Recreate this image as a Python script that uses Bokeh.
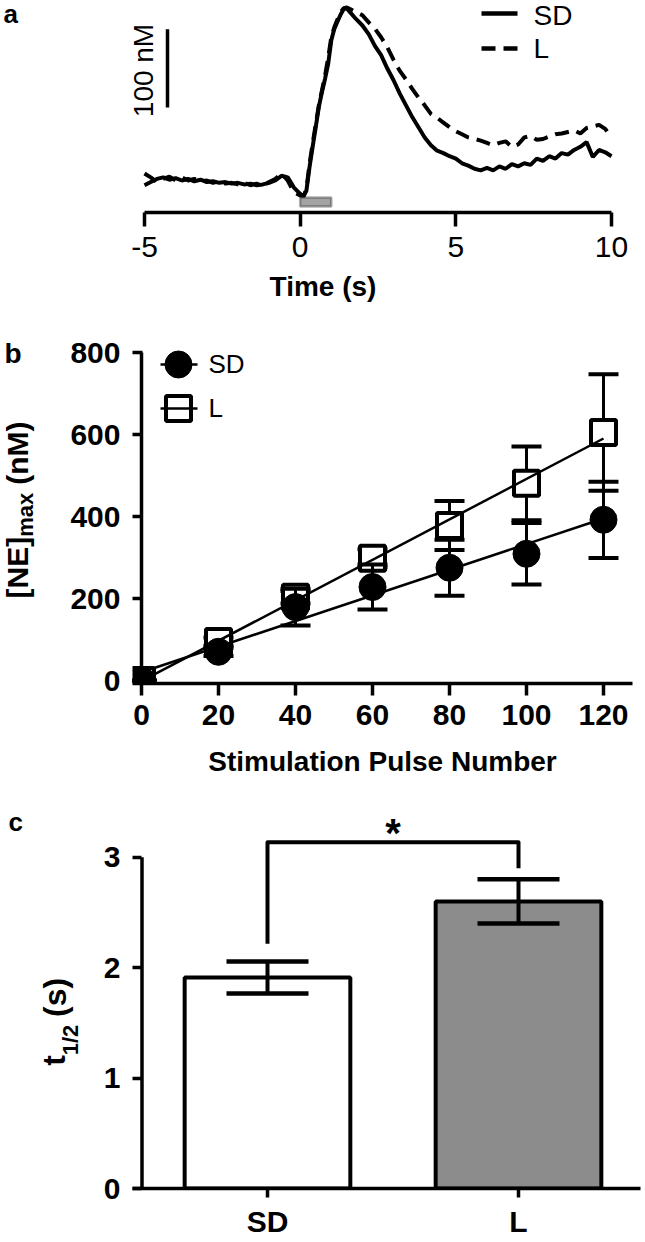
import numpy as np
from math import pi
from bokeh.plotting import figure
from bokeh.models import Range1d, Label, FixedTicker, BoxAnnotation, ColumnDataSource
from bokeh.layouts import column, row
from bokeh.embed import file_html
from bokeh.resources import INLINE

FONT = "Liberation Sans"

# ---------------- data: panel a (NE traces, nM relative to baseline) ----------------
time_s = [-5.0, -4.8, -4.6, -4.4, -4.2, -4.0, -3.8, -3.6, -3.4, -3.2, -3.0, -2.8, -2.6,
          -2.4, -2.2, -2.0, -1.8, -1.6, -1.4, -1.2, -1.0, -0.8, -0.6, -0.4, -0.2,
          0.0, 0.1, 0.2, 0.3, 0.4, 0.5, 0.6, 0.7, 0.8, 0.9, 1.0, 1.1, 1.2, 1.3, 1.4, 1.5, 1.6,
          1.8, 2.0, 2.2, 2.4, 2.6, 2.8, 3.0, 3.2, 3.4, 3.6, 3.8, 4.0, 4.2, 4.4, 4.6, 4.8,
          5.0, 5.2, 5.4, 5.6, 5.8, 6.0, 6.2, 6.4, 6.6, 6.8, 7.0, 7.2, 7.4, 7.6, 7.8, 8.0,
          8.2, 8.4, 8.6, 8.8, 9.0, 9.2, 9.4, 9.6, 9.8, 10.0]
sd_trace = [-6, -2, 2, 4, 1, 3, 0, 2, -1, 1, -2, -1, -3, -2, -4, -3, -5, -4, -6, -5, -3, 0, 6, 4, -9,
            -17, -20, -13, 17, 43, 68, 94, 113, 130, 149, 179, 194, 203, 212, 219, 220, 215,
            206, 198, 187, 172, 160, 143, 128, 111, 96, 81, 68, 55, 45, 38, 35, 31,
            28, 22, 19, 15, 13, 16, 13, 18, 15, 21, 18, 22, 20, 28, 25, 31,
            28, 35, 33, 39, 43, 49, 30, 39, 36, 31]
l_trace = [9, 4, -2, 2, 5, 0, 4, 0, 2, -1, 0, -3, -1, -4, -3, -5, -3, -6, -4, -7, -2, 2, 9, 0, -15,
           -19, -21, -11, 21, 47, 72, 96, 115, 134, 157, 183, 196, 206, 215, 220, 221, 219,
           215, 211, 202, 194, 183, 170, 154, 140, 129, 117, 106, 96, 85, 80, 74, 68,
           63, 59, 55, 53, 51, 48, 45, 48, 50, 43, 46, 55, 57, 52, 53, 56,
           59, 60, 62, 64, 60, 67, 69, 71, 66, 55]
stim_on, stim_off = 0.0, 1.0
time_ticks = [-5, 0, 5, 10]
time_tick_labels = ["-5", "0", "5", "10"]
scale_bar_nM = 100
trace_names = ["SD", "L"]

# ---------------- data: panel b ----------------
pulses = [0, 20, 40, 60, 80, 100, 120]
sd_max = [0, 70, 179, 228, 275, 309, 392]
sd_max_err = [0, 10, 45, 55, 68, 75, 93]
l_max = [0, 95, 203, 298, 378, 481, 605]
l_max_err = [0, 10, 15, 22, 60, 90, 142]
nm_ticks = [0, 200, 400, 600, 800]

# ---------------- data: panel c ----------------
groups = ["SD", "L"]
t_half = [1.91, 2.60]
t_half_err = [0.145, 0.20]
t_ticks = [0, 1, 2, 3]
signif = "*"

# ---------------- layout helpers ----------------
W = 645
MID = 0.3465   # text-box centre above the baseline, in em (Liberation Sans)
BOLD_W = {"[": .333, "]": .333, "N": .722, "E": .667, "m": .889, "a": .556, "x": .556,
          " ": .278, "(": .333, ")": .333, "n": .611, "M": .833, "t": .333, "1": .556,
          "/": .278, "2": .556, "s": .556}


def tw(text, size):
    return sum(BOLD_W.get(c, .6) for c in text) * size


class Geo:
    """maps page pixels to data coordinates for a frame"""
    def __init__(self, left, right, top, bottom, xr, yr):
        self.l, self.r, self.t, self.b = left, right, top, bottom
        self.xr, self.yr = xr, yr

    def x(self, px):
        return self.xr[0] + (px - self.l) * (self.xr[1] - self.xr[0]) / (self.r - self.l)

    def y(self, py):
        return self.yr[1] - (py - self.t) * (self.yr[1] - self.yr[0]) / (self.b - self.t)


def make_fig(fig_left, fig_top, width, height, g, **kw):
    p = figure(width=width, height=height, x_range=Range1d(*g.xr), y_range=Range1d(*g.yr),
               output_backend="svg", toolbar_location=None, title=None,
               min_border_left=g.l - fig_left, min_border_right=fig_left + width - g.r,
               min_border_top=g.t - fig_top, min_border_bottom=fig_top + height - g.b, **kw)
    p.outline_line_color = None
    p.grid.visible = False
    p.background_fill_color = "white"
    p.border_fill_color = "white"
    return p


def label_fig(width, fig_top, height, frame_top, frame_bottom):
    """axis-less figure beside a plot; its frame spans the same rows as that plot's frame"""
    g = Geo(0, width, frame_top, frame_bottom, (0, width), (0, frame_bottom - frame_top))
    p = figure(width=width, height=height, x_range=Range1d(*g.xr), y_range=Range1d(*g.yr),
               output_backend="svg", toolbar_location=None, title=None,
               x_axis_location=None, y_axis_location=None,
               min_border_left=0, min_border_right=0,
               min_border_top=frame_top - fig_top,
               min_border_bottom=fig_top + height - frame_bottom)
    p.outline_line_color = None
    p.grid.visible = False
    p.border_fill_color = "white"
    p.background_fill_color = "white"
    return p, g


def style_axis(ax, size, bold, lw=3.5):
    ax.axis_line_color = "black"
    ax.axis_line_width = lw
    ax.major_tick_line_color = "black"
    ax.major_tick_line_width = lw
    ax.minor_tick_line_color = None
    ax.major_label_text_font = FONT
    ax.major_label_text_font_size = f"{size}px"
    ax.major_label_text_font_style = "bold" if bold else "normal"
    ax.major_label_text_color = "black"
    ax.axis_label_text_font = FONT
    ax.axis_label_text_font_style = "bold"
    ax.axis_label_text_color = "black"


def label(p, g, px, baseline_py, text, size, bold=False, align="left"):
    """horizontal text; baseline given in page pixels"""
    p.add_layout(Label(x=g.x(px), y=g.y(baseline_py - MID * size), text=text, text_font=FONT,
                       text_font_size=f"{size}px", text_font_style="bold" if bold else "normal",
                       text_color="black", text_align=align, text_baseline="middle"))


def vlabel(p, g, baseline_px, center_py, text, size, bold=False):
    """text rotated 90 deg (reading upwards); baseline x and centre y in page pixels"""
    p.add_layout(Label(x=g.x(baseline_px - MID * size), y=g.y(center_py), text=text,
                       text_font=FONT, text_font_size=f"{size}px",
                       text_font_style="bold" if bold else "normal", text_color="black",
                       angle=pi / 2, text_align="center", text_baseline="middle"))


def vstack(p, g, center_py, pieces):
    """pieces: (text, size, baseline_px, gap_before); laid out bottom-to-top around center_py"""
    total = sum(tw(t, s) + gap for t, s, _, gap in pieces)
    start = center_py + total / 2
    for t, s, bx, gap in pieces:
        start -= gap
        w = tw(t, s)
        vlabel(p, g, bx, start - w / 2, t, s, bold=True)
        start -= w


# ================= panel a =================
PX_S = 31.13     # px per second
PX_NM = 0.783    # px per nM
A_H = 312
GA = Geo(0, W, 0, 212, (-5 - 144 / PX_S, 10 + (W - 611) / PX_S),
         (-(212 - 180) / PX_NM, 180 / PX_NM))
pa = make_fig(0, 0, W, A_H, GA, y_axis_location=None)
ax = pa.xaxis[0]
style_axis(ax, 30, False)
ax.bounds = (time_ticks[0], time_ticks[-1])
ax.ticker = FixedTicker(ticks=time_ticks)
ax.major_label_overrides = dict(zip(time_ticks, time_tick_labels))
ax.major_tick_out = 14
ax.major_tick_in = 0
ax.major_label_standoff = 10
ax.axis_label = "Time (s)"
ax.axis_label_text_font_size = "28px"
ax.axis_label_standoff = 11

pa.line(time_s, l_trace, line_color="black", line_width=4, line_dash="14 8")
pa.line(time_s, sd_trace, line_color="black", line_width=4)
pa.add_layout(BoxAnnotation(left=stim_on, right=stim_off, bottom=GA.y(206), top=GA.y(197),
                            fill_color="#a3a3a3", fill_alpha=1.0, line_color="black",
                            line_width=2.5))
# scale bar
sb_x = GA.x(167)
sb_bottom = GA.y(107)
pa.line([sb_x, sb_x], [sb_bottom, sb_bottom + scale_bar_nM], line_color="black", line_width=3.5)
vlabel(pa, GA, 153, 70, f"{scale_bar_nM} nM", 28)
# legend
for i, name in enumerate(trace_names):
    yy = GA.y(13 + 35 * i)
    pa.line([GA.x(481), GA.x(517)], [yy, yy], line_color="black", line_width=4.5,
            line_dash="solid" if i == 0 else "14 8")
    label(pa, GA, 533, 25 + 33 * i, name, 28)
label(pa, GA, 3, 23, "a", 26, bold=True)

# ================= panel b =================
B_TOP, B_H, B_LW = A_H, 474, 60
PX_P = 3.85   # px per pulse
PX_B = 0.41   # px per nM
GB = Geo(132, 632, 335, 683, ((132 - 141) / PX_P, (632 - 141) / PX_P),
         (-(683 - 680) / PX_B, 800 + (352 - 335) / PX_B))
pb = make_fig(B_LW, B_TOP, W - B_LW, B_H, GB)
bx = pb.xaxis[0]
style_axis(bx, 30, True)
bx.ticker = FixedTicker(ticks=pulses)
bx.major_tick_out = 12
bx.major_tick_in = 0
bx.major_label_standoff = 9
bx.axis_label = "Stimulation Pulse Number"
bx.axis_label_text_font_size = "28px"
bx.axis_label_standoff = 18
by = pb.yaxis[0]
style_axis(by, 30, True)
by.ticker = FixedTicker(ticks=nm_ticks)
by.axis_line_color = None
by.major_tick_in = 10
by.major_tick_out = 0
by.major_label_standoff = 12
pb.segment(x0=[0], y0=[GB.yr[0]], x1=[0], y1=[nm_ticks[-1]], line_color="black", line_width=3.5)

x_arr = np.array(pulses, dtype=float)
for mean, err, kind in ((l_max, l_max_err, "L"), (sd_max, sd_max_err, "SD")):
    m = np.array(mean, dtype=float)
    e = np.array(err, dtype=float)
    src = ColumnDataSource(dict(x=x_arr, y=m, lo=m - e, hi=m + e))
    pb.segment(x0="x", y0="lo", x1="x", y1="hi", source=src, line_color="black", line_width=3)
    pb.scatter("x", "lo", source=src, marker="dash", size=30, line_color="black", line_width=4)
    pb.scatter("x", "hi", source=src, marker="dash", size=30, line_color="black", line_width=4)
    if kind == "L":
        pb.scatter("x", "y", source=src, marker="square", size=25, fill_color="white",
                   line_color="black", line_width=4)
    else:
        pb.scatter("x", "y", source=src, marker="circle", size=27, fill_color="black",
                   line_color="black", line_width=1)
for mean in (l_max, sd_max):
    slope, icpt = np.polyfit(x_arr, np.array(mean, dtype=float), 1)
    xs = np.array([pulses[0], pulses[-1]], dtype=float)
    pb.line(xs, slope * xs + icpt, line_color="black", line_width=2.5)

# legend b
ly_sd, ly_l = GB.y(364), GB.y(408)
pb.scatter([GB.x(178)], [ly_sd], marker="circle", size=27, fill_color="black", line_color="black")
pb.scatter([GB.x(178)], [ly_l], marker="square", size=25, fill_color="white", line_color="black",
           line_width=4)
for yy in (ly_sd, ly_l):
    pb.line([GB.x(160), GB.x(197)], [yy, yy], line_color="black", line_width=2.5)
label(pb, GB, 208, 373, "SD", 26)
label(pb, GB, 208, 417, "L", 26)

lb, GLB = label_fig(B_LW, B_TOP, B_H, GB.t, GB.b)
label(lb, GLB, 4, 363, "b", 28, bold=True)
vstack(lb, GLB, 509.5, [("[NE]", 30, 27, 0), ("max", 22, 33, 0), ("(nM)", 30, 27, 8)])

# ================= panel c =================
C_TOP, C_H, C_LW = B_TOP + B_H, 454, 90
PX_G = 251    # px per group
PX_T = 111    # px per second
GC = Geo(132, 640, 811, 1190, (0.5 - (267 - 132) / PX_G, 0.5 + (640 - 267) / PX_G),
         (0, (1190 - 811) / PX_T))
pc = make_fig(C_LW, C_TOP, W - C_LW, C_H, GC)
gx = [i + 0.5 for i in range(len(groups))]
cx = pc.xaxis[0]
style_axis(cx, 30, True)
cx.ticker = FixedTicker(ticks=gx)
cx.major_label_overrides = dict(zip(gx, groups))
cx.major_tick_out = 9
cx.major_tick_in = 0
cx.major_label_standoff = 7
cy = pc.yaxis[0]
style_axis(cy, 30, True)
cy.ticker = FixedTicker(ticks=t_ticks)
cy.axis_line_color = None
cy.major_tick_in = 9
cy.major_tick_out = 0
cy.major_label_standoff = 12
pc.segment(x0=[0], y0=[t_ticks[0]], x1=[0], y1=[t_ticks[-1]], line_color="black", line_width=3.5)

th = np.array(t_half)
te = np.array(t_half_err)
csrc = ColumnDataSource(dict(x=gx, top=th, lo=th - te, hi=th + te,
                             color=["white", "#8c8c8c"]))
pc.vbar(x="x", top="top", bottom=0, width=0.66, source=csrc, fill_color="color",
        line_color="black", line_width=4)
pc.segment(x0="x", y0="lo", x1="x", y1="hi", source=csrc, line_color="black", line_width=4)
pc.scatter("x", "lo", source=csrc, marker="dash", size=82, line_color="black", line_width=4.5)
pc.scatter("x", "hi", source=csrc, marker="dash", size=82, line_color="black", line_width=4.5)
# significance bracket
br_top = GC.y(842)
leg_l = GC.y(944)
leg_r = GC.y(868)
pc.line([gx[0], gx[0], gx[1], gx[1]], [leg_l, br_top, br_top, leg_r], line_color="black",
        line_width=4, line_join="round")
pc.add_layout(Label(x=(gx[0] + gx[1]) / 2, y=GC.y(833), text=signif, text_font=FONT,
                    text_font_size="40px", text_font_style="bold", text_color="black",
                    text_align="center", text_baseline="middle"))

lc, GLC = label_fig(C_LW, C_TOP, C_H, GC.t, GC.b)
label(lc, GLC, 8, 831, "c", 26, bold=True)
vstack(lc, GLC, 1022.5, [("t", 32, 65, 0), ("1/2", 22, 78, 0), ("(s)", 32, 66, 8)])

layout = column(pa, row(lb, pb, spacing=0), row(lc, pc, spacing=0), spacing=0)
open("out.html", "w").write(file_html(layout, INLINE))
